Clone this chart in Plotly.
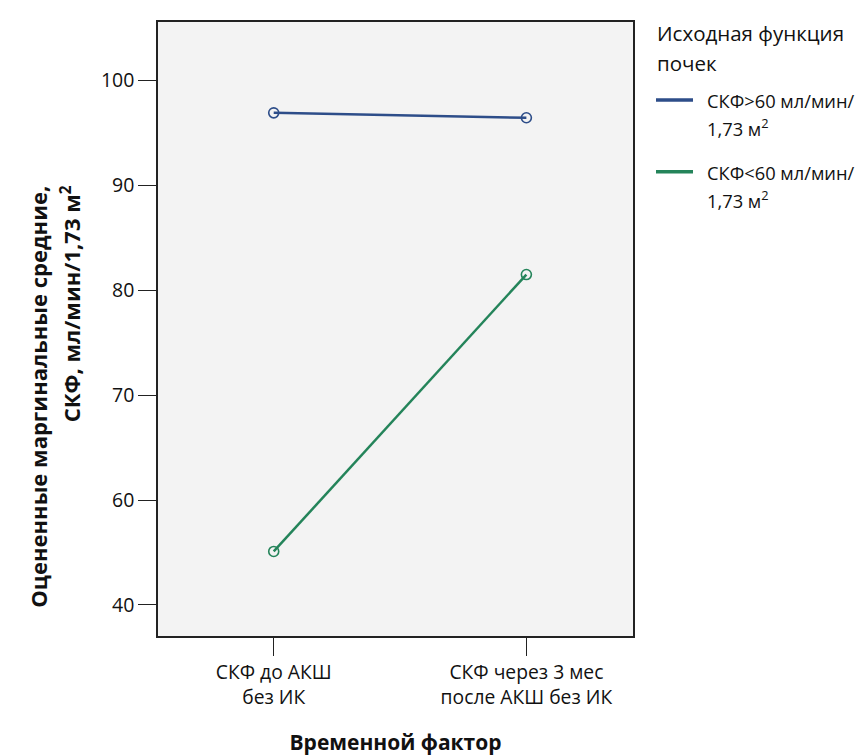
import plotly.graph_objects as go

categories = ["СКФ до АКШ<br>без ИК", "СКФ через 3 мес<br>после АКШ без ИК"]
series_names = ["СКФ>60 мл/мин/ 1,73 м²", "СКФ<60 мл/мин/ 1,73 м²"]
legend_title_lines = ["Исходная функция", "почек"]
legend_text_lines = [["СКФ>60 мл/мин/", "1,73 м<sup>2</sup>"], ["СКФ<60 мл/мин/", "1,73 м<sup>2</sup>"]]
y_title_lines = ["<b>Оцененные маргинальные средние,</b>", "<b>СКФ, мл/мин/1,73 м<sup>2</sup></b>"]
x_title = "<b>Временной фактор</b>"
gfr_above_60 = [96.92, 96.45]
gfr_below_60 = [55.1, 81.5]
y_tick_vals = [50, 60, 70, 80, 90, 100]
y_tick_text = ["40", "60", "70", "80", "90", "100"]
colors = ["#2d4d89", "#24845a"]

FONT = "Open Sans"
W, H = 865, 755
L, R, T, B = 150, 240, 13, 123
PW, PH = W - L - R, H - T - B
xpos = list(range(len(categories)))


def px_x(x):
    return (x - L) / PW


def px_y(y):
    return (H - B - y) / PH


fig = go.Figure()
for name, vals, col in zip(series_names, [gfr_above_60, gfr_below_60], colors):
    fig.add_trace(go.Scatter(
        x=xpos, y=vals, name=name, mode="lines+markers", showlegend=False,
        line=dict(color=col, width=2.5),
        marker=dict(symbol="circle-open", size=10, color=col, line=dict(width=1.6, color=col)),
    ))

annotations = []
shapes = []
# legend title
for txt, yc in zip(legend_title_lines, [24, 54]):
    annotations.append(dict(text=txt, x=px_x(647), y=px_y(yc), xref="paper", yref="paper",
                            xanchor="left", yanchor="middle", showarrow=False,
                            font=dict(size=20.5, family=FONT, color="#111")))
# legend entries
for (l1, l2), col, ly in zip(legend_text_lines, colors, [91.7, 164]):
    shapes.append(dict(type="line", xref="paper", yref="paper",
                       x0=px_x(648), x1=px_x(685), y0=px_y(ly), y1=px_y(ly),
                       line=dict(color=col, width=3.5)))
    annotations.append(dict(text=l1, x=px_x(697), y=px_y(ly + 0.5), xref="paper", yref="paper",
                            xanchor="left", yanchor="middle", showarrow=False,
                            font=dict(size=18.3, family=FONT, color="#111")))
    annotations.append(dict(text=l2, x=px_x(697), y=px_y(ly + 28), xref="paper", yref="paper",
                            xanchor="left", yanchor="middle", showarrow=False,
                            font=dict(size=18.3, family=FONT, color="#111")))
# y-axis title, two lines, aligned at the top
for txt, xc in zip(y_title_lines, [30, 62]):
    annotations.append(dict(text=txt, x=px_x(xc), y=px_y(176), xref="paper", yref="paper",
                            xanchor="center", yanchor="top", textangle=-90, showarrow=False,
                            font=dict(size=22, family=FONT, color="#111")))

fig.update_layout(
    width=W, height=H,
    margin=dict(l=L, r=R, t=T, b=B),
    paper_bgcolor="white", plot_bgcolor="#f3f3f3",
    font=dict(family=FONT, size=19.5, color="#111"),
    showlegend=False,
    annotations=annotations,
    shapes=shapes,
    xaxis=dict(
        range=[-0.458, 1.422], tickvals=xpos, ticktext=categories,
        showgrid=False, zeroline=False, showline=True, linecolor="#222", linewidth=1.5,
        mirror=True, ticks="outside", ticklen=18, tickcolor="#222", tickwidth=1.2,
        tickfont=dict(size=19.3),
        title=dict(text=x_title, font=dict(size=21), standoff=26),
    ),
    yaxis=dict(
        range=[47.04, 105.58], tickvals=y_tick_vals, ticktext=y_tick_text,
        showgrid=False, zeroline=False, showline=True, linecolor="#222", linewidth=1.5,
        mirror=True, ticks="outside", ticklen=18, tickcolor="#222", tickwidth=1.2,
        tickfont=dict(size=19.5),
    ),
)

fig.write_html("out.html")
